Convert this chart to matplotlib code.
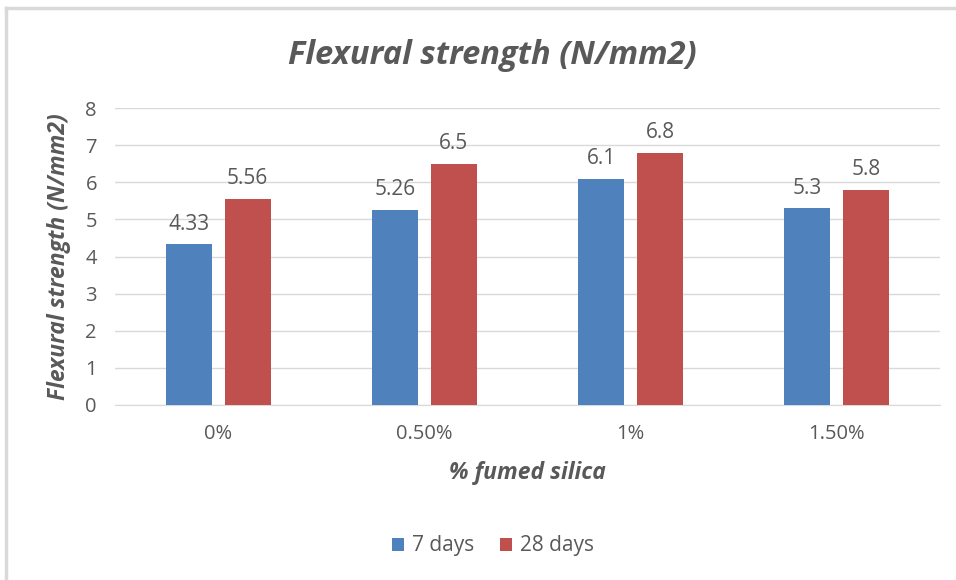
import numpy as np
import matplotlib
matplotlib.use('Agg')
import matplotlib.pyplot as plt
from matplotlib.lines import Line2D

# Data
categories = ['0%', '0.50%', '1%', '1.50%']
days7 = [4.33, 5.26, 6.1, 5.3]
days28 = [5.56, 6.5, 6.8, 5.8]
labels7 = ['4.33', '5.26', '6.1', '5.3']
labels28 = ['5.56', '6.5', '6.8', '5.8']

plt.rcParams['font.family'] = ['Open Sans', 'DejaVu Sans']
grey = '#595959'

fig = plt.figure(figsize=(9.56, 5.8), dpi=100)
ax = fig.add_axes([115/956, 1-405/580, 825/956, 297/580])

x = np.arange(len(categories))
w = 0.223
off = 0.143
b1 = ax.bar(x - off, days7, w, color='#4F81BD', label='7 days', zorder=3)
b2 = ax.bar(x + off, days28, w, color='#C0504D', label='28 days', zorder=3)

for bars, labs in [(b1, labels7), (b2, labels28)]:
    for rect, lab in zip(bars, labs):
        ax.annotate(lab, (rect.get_x() + rect.get_width()/2, rect.get_height()),
                    xytext=(0, 7), textcoords='offset points', ha='center', va='bottom',
                    fontsize=15, color=grey)

ax.set_xlim(-0.5, 3.5)
ax.set_ylim(0, 8)
ax.set_yticks(range(0, 9))
ax.set_xticks(x)
ax.set_xticklabels(categories)
ax.tick_params(axis='both', length=0, labelsize=14.5, labelcolor=grey)
ax.tick_params(axis='y', pad=13)
ax.tick_params(axis='x', pad=14)
ax.grid(axis='y', color='#d9d9d9', linewidth=1, zorder=0)
for s in ['top', 'right', 'left']:
    ax.spines[s].set_visible(False)
ax.spines['bottom'].set_color('#d9d9d9')

ax.set_ylabel('Flexural strength (N/mm2)', fontsize=16.5, fontweight='bold', style='italic',
              color=grey, labelpad=10)
ax.set_xlabel('% fumed silica', fontsize=16.5, fontweight='bold', style='italic',
              color=grey, labelpad=12)
fig.text(0.515, 1-55/580, 'Flexural strength (N/mm2)', ha='center', va='center',
         fontsize=23.5, fontweight='bold', style='italic', color=grey)

fig.legend(handles=[b1, b2], loc='center', bbox_to_anchor=(493/956, 1-546/580), ncol=2,
           frameon=False, fontsize=15, labelcolor=grey, handlelength=0.6, handleheight=0.6,
           columnspacing=1.2, handletextpad=0.4)

# chart frame
fig.add_artist(Line2D([6/956, 1], [1-8/580, 1-8/580], color='#d9d9d9', linewidth=2.5))
fig.add_artist(Line2D([6/956, 6/956], [0, 1-8/580], color='#d9d9d9', linewidth=2.5))

fig.savefig('out.png', dpi=100)
